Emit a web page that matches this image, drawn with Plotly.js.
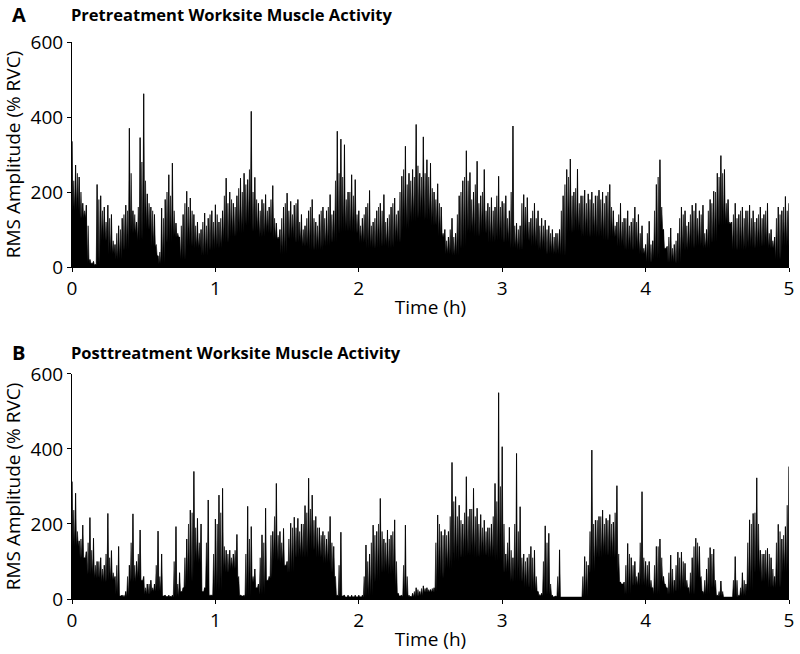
<!DOCTYPE html>
<html>
<head>
<meta charset="utf-8">
<script src="https://cdn.plot.ly/plotly-3.0.1.min.js"></script>
<style>html,body{margin:0;padding:0;background:#fff;}#chart{width:800px;height:654px;}</style>
</head>
<body>
<div id="chart"></div>
<script>
// Sampling steps (hours)
const spikeStep = 0.025;
const midOffset = 0.0125;
const bodyStep = 0.05;

// Panel A – Pretreatment: main spike peaks every 0.025 h from 0 (% RVC)
const preSpikes = [
 335,272,240,170,165,20,15,220,190,160,165,140,60,110,130,165,370,150,120,345,
 462,195,160,140,30,157,180,246,277,117,80,140,202,184,140,120,100,144,130,150,
 166,120,150,237,200,170,190,237,250,233,415,239,170,180,193,160,217,117,100,160,
 197,175,165,180,140,110,150,180,120,140,160,150,193,150,362,341,326,200,246,233,
 150,130,160,204,120,150,170,193,130,160,184,150,242,322,250,260,380,250,347,286,
 277,200,222,160,100,80,130,90,190,230,310,252,200,282,190,260,170,185,160,242,
 175,190,150,376,117,110,193,185,130,170,150,130,125,110,100,90,100,190,260,288,
 200,261,190,205,195,200,190,205,200,190,220,150,120,170,130,150,120,160,140,110,
 60,122,70,220,286,100,55,104,60,90,160,150,120,165,170,150,165,100,180,202,
 250,297,260,180,120,170,140,160,150,165,150,130,160,140,170,100,80,160,150,188,
 170
];
// Panel A – secondary spikes between them (from 0.0125 h)
const preSpikesMid = [
 230,250,200,150,110,10,8,180,150,120,130,70,90,100,140,150,250,140,160,280,
 230,170,150,60,40,130,200,190,150,90,110,170,160,150,110,90,120,110,140,120,
 140,130,190,170,180,160,210,200,220,260,200,180,150,170,150,180,130,80,130,170,
 150,140,170,120,100,130,160,130,110,150,130,160,140,230,250,240,180,200,190,140,
 110,140,170,110,130,160,150,120,140,170,140,200,260,220,230,240,270,240,250,240,
 210,180,170,90,70,100,80,140,200,240,230,180,220,170,200,150,160,150,190,160,
 170,130,200,110,100,170,160,120,150,130,110,110,100,90,80,90,150,220,240,190,
 210,170,190,170,180,170,190,180,170,200,160,110,140,120,130,110,130,120,90,50,
 90,60,150,240,160,50,80,50,70,130,140,110,140,150,130,140,90,150,170,200,
 240,250,170,120,140,130,150,130,150,130,120,140,130,150,90,70,130,140,160,150
];
// Panel A – dense (solid) activity level per 0.05 h bin
const preBody = [
 150,130,10,5,70,35,20,45,90,70,100,55,8,65,80,20,55,50,30,45,
 50,65,80,90,110,95,80,90,75,35,75,65,55,45,45,55,65,90,95,90,
 65,50,50,55,50,65,100,120,130,125,110,80,35,30,50,90,80,90,65,70,
 65,50,45,70,55,45,35,35,30,90,95,80,80,80,70,80,55,45,45,35,
 12,20,110,12,10,45,50,55,50,65,110,115,45,45,50,50,55,50,20,55,
 65
];

// Panel B – Posttreatment: main spike peaks every 0.025 h from 0 (% RVC)
const postSpikes = [
 313,282,155,197,126,217,162,100,110,90,228,129,60,140,10,20,90,227,100,184,
 60,40,50,40,181,120,10,10,10,193,70,30,160,237,340,215,200,30,264,10,
 213,277,295,130,130,120,172,10,10,247,193,80,40,171,242,60,180,308,180,188,
 100,202,218,215,200,249,322,277,220,190,180,160,220,140,10,178,10,10,10,10,
 10,10,144,120,197,180,268,160,184,170,211,15,10,197,10,15,30,20,35,30,
 25,30,224,180,185,180,364,273,250,200,326,240,295,242,225,210,190,200,308,550,
 406,120,191,110,388,246,120,110,140,130,20,15,195,175,10,8,131,5,5,5,
 5,5,5,113,90,397,210,220,237,215,225,205,302,45,45,148,110,100,70,286,
 100,100,30,140,160,60,30,117,50,125,125,95,30,110,162,140,20,80,137,133,
 10,48,5,5,5,113,10,70,40,211,228,323,130,120,135,110,60,199,160,193,
 353
];
// Panel B – secondary spikes between them (from 0.0125 h)
const postSpikesMid = [
 237,180,160,110,150,130,90,100,80,120,110,70,90,8,10,60,150,90,120,50,
 30,40,30,90,60,8,8,8,100,40,20,110,200,230,190,150,20,150,10,120,
 200,230,140,120,110,130,60,8,120,160,60,30,110,150,50,170,220,170,150,90,
 160,190,190,180,200,230,240,210,190,170,170,180,150,60,90,8,6,6,6,6,
 6,60,100,150,170,200,180,150,160,180,100,8,90,60,8,20,25,28,28,25,
 28,150,200,170,170,220,260,220,210,230,220,240,220,200,190,180,190,220,260,300,
 200,150,130,200,180,110,100,120,110,60,12,100,150,40,6,60,6,5,5,5,
 5,5,60,100,180,200,210,220,200,210,200,230,120,40,90,120,90,60,150,110,
 90,50,90,140,110,40,70,80,90,110,100,50,70,140,150,60,50,110,120,50,
 20,20,5,5,50,50,30,50,150,200,230,200,120,130,120,80,150,180,170,250
];
// Panel B – dense (solid) activity level per 0.05 h bin
const postBody = [
 140,110,65,55,45,50,12,5,45,55,12,20,20,5,5,30,45,95,45,12,
 20,70,80,55,5,45,12,55,100,95,70,110,110,130,110,95,70,8,5,5,
 5,8,45,70,65,30,5,5,8,18,18,55,80,100,110,115,110,115,110,100,
 70,45,45,30,20,8,12,5,5,5,5,5,70,110,115,110,70,12,35,35,
 30,12,45,12,20,30,12,55,12,30,8,5,5,8,20,70,45,30,30,70,
 110
];

const xTicks = [0, 1, 2, 3, 4, 5];
const yTicks = [0, 200, 400, 600];
const panelTitles = ["Pretreatment Worksite Muscle Activity", "Posttreatment Worksite Muscle Activity"];
const panelLetters = ["A", "B"];
const xTitle = "Time (h)";
const yTitle = "RMS Amplitude (% RVC)";

// Filled signal: each spike rises from the solid level of its 0.05 h bin
function signalTrace(peaks, mids, body, xa, ya) {
  const x = [], y = [];
  const floorAt = t => body[Math.min(body.length - 1, Math.floor(t / bodyStep + 1e-9))];
  const q = midOffset / 2;
  peaks.forEach((v, i) => {
    const t = i * spikeStep;
    x.push(+t.toFixed(5)); y.push(v);
    if (i < mids.length) {
      x.push(+(t + q).toFixed(5)); y.push(Math.min(floorAt(t + q), v, mids[i]));
      x.push(+(t + midOffset).toFixed(5)); y.push(mids[i]);
      x.push(+(t + midOffset + q).toFixed(5)); y.push(Math.min(floorAt(t + midOffset + q), mids[i], peaks[i + 1]));
    }
  });
  return {type: 'scatter', mode: 'lines', x, y, xaxis: xa, yaxis: ya,
    fill: 'tozeroy', fillcolor: '#000', line: {color: '#000', width: 0.6},
    hoverinfo: 'skip', showlegend: false};
}
// Thin needle on every main peak
function spikeTrace(peaks, xa, ya) {
  const x = [], y = [];
  peaks.forEach((v, i) => {
    const t = +(i * spikeStep).toFixed(4);
    x.push(t, t, null);
    y.push(0, v, null);
  });
  return {type: 'scatter', mode: 'lines', x, y, xaxis: xa, yaxis: ya,
    line: {color: '#000', width: 0.9}, hoverinfo: 'skip', showlegend: false};
}

const data = [
  signalTrace(preSpikes, preSpikesMid, preBody, 'x', 'y'),
  spikeTrace(preSpikes, 'x', 'y'),
  signalTrace(postSpikes, postSpikesMid, postBody, 'x2', 'y2'),
  spikeTrace(postSpikes, 'x2', 'y2')
];

const font = {family: '"Open Sans", "Noto Sans", sans-serif', color: '#000'};
function xAxis(anchor) {
  return {anchor, domain: [0, 1], range: [0, 5], tickvals: xTicks, ticks: 'outside', ticklen: 4,
    tickcolor: '#000', showline: true, linecolor: '#000', linewidth: 1, showgrid: false, zeroline: false,
    tickfont: {size: 19}, title: {text: xTitle, font: {size: 19}, standoff: 0}};
}
function yAxis(anchor, domain) {
  return {anchor, domain, range: [0, 600], tickvals: yTicks, ticks: 'outside', ticklen: 4,
    tickcolor: '#000', showline: true, linecolor: '#000', linewidth: 1, showgrid: false, zeroline: false,
    tickfont: {size: 19}, title: {text: yTitle, font: {size: 19}, standoff: 6}};
}

const layout = {
  width: 800, height: 654,
  margin: {l: 72, r: 11, t: 42, b: 55},
  paper_bgcolor: '#fff', plot_bgcolor: '#fff',
  font: font,
  showlegend: false,
  xaxis: xAxis('y'),
  yaxis: yAxis('x', [0.596, 1]),
  xaxis2: xAxis('y2'),
  yaxis2: yAxis('x2', [0, 0.404]),
  annotations: [
    {text: '<b>' + panelLetters[0] + '</b>', xref: 'paper', yref: 'paper', x: -0.087, y: 1.05, xanchor: 'left', yanchor: 'middle', showarrow: false, font: {size: 20}},
    {text: '<b>' + panelTitles[0] + '</b>', xref: 'paper', yref: 'paper', x: -0.004, y: 1.05, xanchor: 'left', yanchor: 'middle', showarrow: false, font: {size: 16.5}},
    {text: '<b>' + panelLetters[1] + '</b>', xref: 'paper', yref: 'paper', x: -0.087, y: 0.4434, xanchor: 'left', yanchor: 'middle', showarrow: false, font: {size: 20}},
    {text: '<b>' + panelTitles[1] + '</b>', xref: 'paper', yref: 'paper', x: -0.004, y: 0.4434, xanchor: 'left', yanchor: 'middle', showarrow: false, font: {size: 16.5}}
  ]
};

Plotly.newPlot('chart', data, layout, {staticPlot: true, displayModeBar: false});
</script>
</body>
</html>
